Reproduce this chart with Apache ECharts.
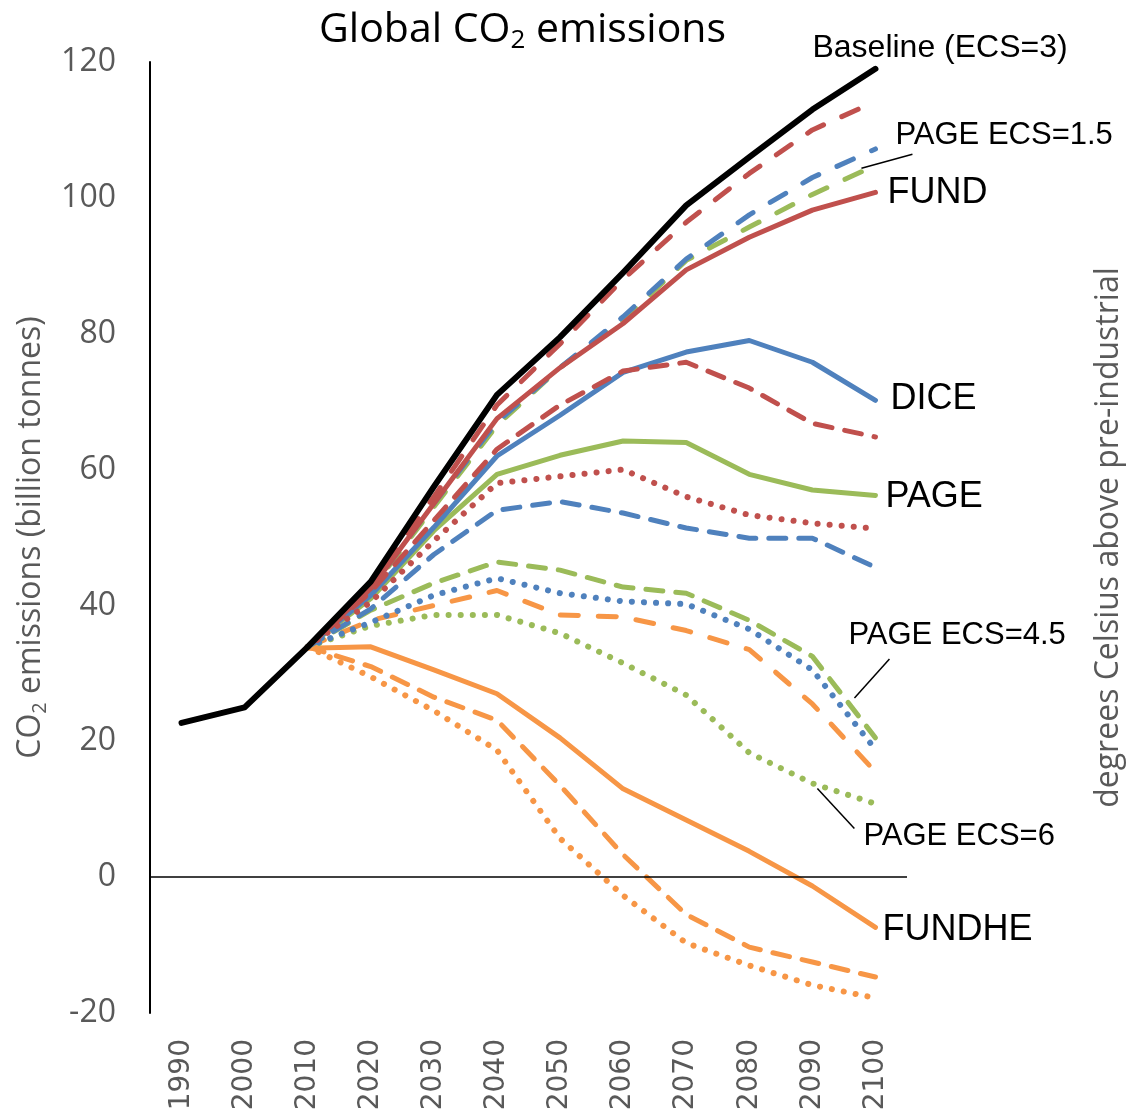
<!DOCTYPE html>
<html><head><meta charset="utf-8">
<script src="https://cdn.jsdelivr.net/npm/echarts@6/dist/echarts.min.js"></script>
<style>html,body{margin:0;padding:0;background:#fff}#c{width:1127px;height:1114px}</style>
</head><body><div id="c"></div>
<script>
const years = ['1990','2000','2010','2020','2030','2040','2050','2060','2070','2080','2090','2100'];
const yMin = -20, yMax = 120, yStep = 20;

const baseline = [22.7, 25.0, 33.9, 43.5, 57.5, 71.0, 79.5, 89.0, 98.9, 106.0, 113.0, 119.0];

const fund     = [null, null, 33.9, 42.5, 55.0, 67.5, 75.0, 81.5, 89.4, 94.2, 98.2, 100.8];
const fund15   = [null, null, 33.9, 43.0, 56.0, 69.5, 78.5, 88.0, 96.4, 103.6, 110.0, 114.2];
const fund45   = [null, null, 33.9, 42.0, 52.5, 63.0, 69.5, 74.5, 75.8, 72.0, 66.8, 64.8];
const fund6    = [null, null, 33.9, 40.5, 49.5, 58.0, 59.0, 60.0, 56.0, 53.3, 52.1, 51.3];

const dice     = [null, null, 33.9, 41.5, 51.5, 62.0, 68.0, 74.3, 77.3, 79.0, 75.8, 70.2];
const dice15   = [null, null, 33.9, 42.5, 55.0, 67.0, 75.0, 82.5, 91.0, 97.5, 103.0, 107.2];
const dice45   = [null, null, 33.9, 39.5, 47.5, 54.0, 55.3, 53.6, 51.4, 49.9, 49.9, 45.6];
const dice6    = [null, null, 33.9, 37.5, 41.5, 44.0, 41.8, 40.6, 40.2, 36.5, 30.5, 18.8];

const page     = [null, null, 33.9, 41.0, 51.0, 59.3, 62.1, 64.2, 64.0, 59.3, 57.0, 56.2];
const page15   = [null, null, 33.9, 42.3, 54.5, 66.5, 75.0, 82.0, 90.8, 95.7, 100.5, 104.8];
const page45   = [null, null, 33.9, 39.3, 43.3, 46.4, 45.2, 42.7, 41.8, 37.8, 32.5, 20.5];
const page6    = [null, null, 33.9, 37.0, 38.6, 38.6, 35.9, 31.5, 26.8, 18.3, 13.8, 10.8];

const fundhe   = [null, null, 33.7, 33.9, 30.5, 27.0, 20.5, 13.0, 8.4, 3.8, -1.3, -7.4];
const fundhe15 = [null, null, 33.9, 37.8, 40.0, 42.2, 38.6, 38.3, 36.3, 33.5, 25.5, 15.5];
const fundhe45 = [null, null, 33.9, 31.0, 26.5, 23.1, 13.5, 3.3, -5.5, -10.3, -12.5, -14.7];
const fundhe6  = [null, null, 33.9, 29.5, 24.5, 18.7, 5.7, -2.7, -9.7, -13.0, -15.9, -17.8];

const RED = '#C0504D', BLUE = '#4F81BD', GREEN = '#9BBB59', ORANGE = '#F79646';
const DOT = [0.1, 12], DASH = [17, 13], LDASH = [18, 20];

function mk(name, data, color, type, width, z) {
  return {
    name, type: 'line', data, symbol: 'none', connectNulls: false, z: z || 2,
    lineStyle: { color, width: width || 5, type: type || 'solid', cap: 'round', join: 'round' },
    emphasis: { disabled: true }
  };
}

const series = [
  mk('FUNDHE ECS=6', fundhe6, ORANGE, DOT, 6),
  mk('FUNDHE ECS=4.5', fundhe45, ORANGE, DASH),
  mk('FUNDHE ECS=1.5', fundhe15, ORANGE, LDASH),
  mk('FUNDHE', fundhe, ORANGE),
  mk('PAGE ECS=6', page6, GREEN, DOT, 6),
  mk('PAGE ECS=4.5', page45, GREEN, DASH),
  mk('PAGE ECS=1.5', page15, GREEN, LDASH),
  mk('PAGE', page, GREEN),
  mk('DICE ECS=6', dice6, BLUE, DOT, 6),
  mk('DICE ECS=4.5', dice45, BLUE, DASH),
  mk('DICE ECS=1.5', dice15, BLUE, LDASH),
  mk('DICE', dice, BLUE),
  mk('FUND ECS=6', fund6, RED, DOT, 6),
  mk('FUND ECS=4.5', fund45, RED, DASH),
  mk('FUND ECS=1.5', fund15, RED, LDASH),
  mk('FUND', fund, RED),
  mk('Baseline (ECS=3)', baseline, '#000', 'solid', 6, 3)
];
series[0].markLine = {
  silent: true, symbol: ['none', 'none'], label: { show: false },
  lineStyle: { color: '#000', width: 1.5, type: 'solid' },
  data: [{ yAxis: 0 }]
};

const GRAY = '#595959';
const option = {
  animation: false,
  backgroundColor: '#fff',
  title: {
    text: '{a|Global CO}{s|2}{a| emissions}',
    left: 314, top: 1,
    textStyle: {
      fontWeight: 'normal',
      rich: {
        a: { fontFamily: 'Open Sans', fontWeight: 'normal', fontSize: 41, color: '#000' },
        s: { fontFamily: 'Open Sans', fontWeight: 'normal', fontSize: 26, color: '#000', verticalAlign: 'bottom', padding: [22, 0, 0, 0] }
      }
    }
  },
  grid: { left: 150, right: 220, top: 62, bottom: 101, containLabel: false, outerBoundsMode: 'none' },
  xAxis: {
    type: 'category', data: years, boundaryGap: true,
    axisLine: { show: false, onZero: false }, axisTick: { show: false },
    axisLabel: { rotate: 90, margin: 26, color: GRAY, fontFamily: 'DejaVu Sans', fontSize: 28 }
  },
  yAxis: [{
    type: 'value', min: yMin, max: yMax, interval: yStep,
    axisLine: { show: true, lineStyle: { color: '#000', width: 2 } },
    axisTick: { show: false }, splitLine: { show: false },
    axisLabel: { color: GRAY, fontFamily: 'Open Sans', fontSize: 32, margin: 34 },
    name: '{a|CO}{s|2}{a| emissions (billion tonnes)}',
    nameLocation: 'middle', nameRotate: 90, nameGap: 98,
    nameTextStyle: {
      rich: {
        a: { fontFamily: 'Open Sans', fontSize: 32, color: GRAY },
        s: { fontFamily: 'Open Sans', fontSize: 20, color: GRAY, verticalAlign: 'bottom', padding: [18, 0, 0, 0] }
      }
    }
  }, {
    type: 'value', min: yMin, max: yMax, interval: yStep, position: 'right',
    axisLine: { show: false }, axisTick: { show: false }, splitLine: { show: false },
    axisLabel: { show: false },
    name: 'degrees Celsius above pre-industrial',
    nameLocation: 'middle', nameRotate: 90, nameGap: 186,
    nameTextStyle: { fontFamily: 'Open Sans', fontSize: 32, color: GRAY }
  }],
  series
};

const chart = echarts.init(document.getElementById('c'), null, { renderer: 'canvas' });
chart.setOption(option);

const last = years.length - 1;
function px(i, v) { return chart.convertToPixel({ xAxisIndex: 0, yAxisIndex: 0 }, [i, v]); }
function txt(t, p, dx, dy, size) {
  return { type: 'text', z: 100, style: {
    text: t, x: p[0] + dx, y: p[1] + dy, fill: '#000',
    font: size + 'px "Liberation Sans", Arial, sans-serif',
    textAlign: 'left', align: 'left', textVerticalAlign: 'middle', verticalAlign: 'middle' } };
}
function lead(p, dx1, dy1, dx2, dy2) {
  return { type: 'line', z: 100, shape: { x1: p[0] + dx1, y1: p[1] + dy1, x2: p[0] + dx2, y2: p[1] + dy2 },
    style: { stroke: '#000', lineWidth: 1.5 } };
}
const pBase = px(last, baseline[last]);
const pFund = px(last, fund[last]);
const pDice = px(last, dice[last]);
const pPage = px(last, page[last]);
const pFundhe = px(last, fundhe[last]);
const pP15 = px(last, page15[last]);
const pP45 = px(last, page45[last]);
const pP6 = px(last - 1, page6[last - 1]);

chart.setOption({ graphic: [
  txt('Baseline (ECS=3)', pBase, -63, -21, 32),
  txt('PAGE ECS=1.5', pP15, 20, -30, 31),
  lead(pP15, -14, 3, 37, -11),
  txt('FUND', pFund, 12, 1, 36),
  txt('DICE', pDice, 15, -1, 36),
  txt('PAGE', pPage, 10, 2, 36),
  txt('FUNDHE', pFundhe, 7, 3, 36),
  txt('PAGE ECS=4.5', pP45, -27, -102, 31),
  lead(pP45, -21, -40, 14, -79),
  txt('PAGE ECS=6', pP6, 51, 53, 31),
  lead(pP6, 5, 5, 42, 45)
]});
</script>
</body></html>
